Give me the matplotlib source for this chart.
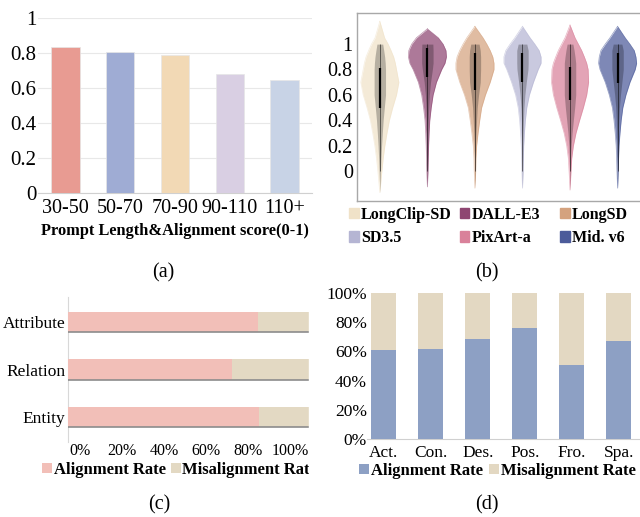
import numpy as np
import matplotlib
matplotlib.use("Agg")
import matplotlib.pyplot as plt
from matplotlib.patches import Patch, Rectangle

plt.rcParams['font.family'] = ['Liberation Serif', 'DejaVu Serif']

# (a) prompt length vs alignment score
len_bins = ['30-50', '50-70', '70-90', '90-110', '110+']
len_scores = [0.836, 0.804, 0.789, 0.680, 0.644]
len_colors = ['#E89B92', '#9FACD4', '#F2D9B5', '#D9CFE3', '#C8D3E6']

# (b) violin outlines: half widths at shared levels
models = ['LongClip-SD', 'DALL-E3', 'LongSD', 'SD3.5', 'PixArt-a', 'Mid. v6']
model_colors = ['#F0E2C8', '#8E4672', '#D4A27E', '#B5B5D3', '#D9819A', '#4C5B9A']
levels = [1.05, 1.0, 0.95, 0.9, 0.85, 0.8, 0.7, 0.6, 0.5, 0.4, 0.3, 0.2, 0.1, 0.0]
tip_top = [1.18, 1.12, 1.14, 1.14, 1.15, 1.14]
tip_bot = [-0.17, -0.125, -0.135, -0.135, -0.15, -0.135]
w_longclip = [0.10, 0.175, 0.235, 0.29, 0.325, 0.35, 0.40, 0.35, 0.27, 0.20, 0.15, 0.105, 0.07, 0.042]
w_dalle = [0.23, 0.33, 0.39, 0.40, 0.37, 0.30, 0.19, 0.12, 0.08, 0.05, 0.035, 0.025, 0.018, 0.012]
w_longsd = [0.17, 0.25, 0.32, 0.375, 0.40, 0.40, 0.32, 0.22, 0.14, 0.10, 0.065, 0.035, 0.02, 0.015]
w_sd35 = [0.16, 0.26, 0.35, 0.39, 0.39, 0.33, 0.23, 0.145, 0.09, 0.06, 0.04, 0.025, 0.018, 0.012]
w_pixart = [0.105, 0.175, 0.245, 0.30, 0.35, 0.38, 0.39, 0.35, 0.28, 0.20, 0.125, 0.07, 0.035, 0.02]
w_mid = [0.16, 0.26, 0.35, 0.385, 0.40, 0.37, 0.26, 0.175, 0.11, 0.075, 0.05, 0.03, 0.02, 0.013]
q1 = [0.50, 0.74, 0.64, 0.70, 0.56, 0.69]
q3 = [0.81, 0.97, 0.93, 0.93, 0.82, 0.93]

# (c) alignment by element type
elem_types = ['Entity', 'Relation', 'Attribute']
elem_align = [0.764, 0.656, 0.760]
c_ticks = ['0%', '20%', '40%', '60%', '80%', '100%']

# (d) alignment by prompt category
cats = ['Act.', 'Con.', 'Des.', 'Pos.', 'Fro.', 'Spa.']
cat_align = [0.61, 0.616, 0.683, 0.762, 0.509, 0.671]

W, H = 640, 517
fig = plt.figure(figsize=(6.4, 5.17), dpi=100)


def box(x0, y0, x1, y1):
    # pixel box -> figure fraction
    return [x0 / W, 1 - y1 / H, (x1 - x0) / W, (y1 - y0) / H]


# ---------- (a)
ax = fig.add_axes(box(38, 18, 312, 193))
xa = np.arange(len(len_bins))
ax.bar(xa, len_scores, width=0.52, color=len_colors, edgecolor='#E6E6E6', linewidth=0.5, zorder=3)
ax.set_ylim(0, 1)
ax.set_xlim(-0.5, 4.5)
ax.set_yticks([0, 0.2, 0.4, 0.6, 0.8, 1.0])
ax.set_yticklabels(['0', '0.2', '0.4', '0.6', '0.8', '1'])
ax.set_xticks(xa)
ax.set_xticklabels(len_bins)
ax.grid(axis='y', color='#E8E8E8', lw=0.8, zorder=0)
for s in ['top', 'right', 'left']:
    ax.spines[s].set_visible(False)
ax.spines['bottom'].set_color('#D0D0D0')
ax.tick_params(length=0, labelsize=15, pad=1)
ax.tick_params(axis='x', labelsize=14.5, pad=4)
ax.set_xlabel('Prompt Length&Alignment score(0-1)', fontsize=11.8, fontweight='bold', labelpad=4)
fig.text(163 / W, 1 - 273 / H, '(a)', ha='center', va='center', fontsize=14.5)

# ---------- (b)
ax = fig.add_axes(box(357, 13, 648, 201))
widths = [w_longclip, w_dalle, w_longsd, w_sd35, w_pixart, w_mid]
for i, w in enumerate(widths):
    ys = np.array([tip_top[i]] + levels + [tip_bot[i]])
    ws = np.array([0] + w + [0])
    ax.fill_betweenx(ys, i - ws, i + ws, color=model_colors[i], alpha=0.72, lw=0, zorder=2)
    ax.plot(np.r_[i - ws, (i + ws)[::-1]], np.r_[ys, ys[::-1]], color=model_colors[i],
            lw=0.5, alpha=0.6, zorder=2)
    # dot cloud as a dark band
    inner = ys <= 1.0
    bw = np.minimum(ws[inner] * 0.35, 0.12)
    ax.fill_betweenx(ys[inner], i - bw, i + bw, color='k', alpha=0.25, lw=0, zorder=3)
    ax.vlines(i, 0, 1.0, color='k', lw=0.6, alpha=0.6, zorder=4)
    ax.vlines(i, q1[i], q3[i], color='k', lw=1.6, zorder=5)
ax.set_xlim(-0.48, 5.64)
ax.set_ylim(-0.236, 1.245)
ax.set_yticks([0, 0.2, 0.4, 0.6, 0.8, 1.0])
ax.set_yticklabels(['0', '0.2', '0.4', '0.6', '0.8', '1'])
ax.set_xticks([])
ax.tick_params(length=0, labelsize=14.5, pad=3)
for s in ax.spines.values():
    s.set_color('#A8A8A8')
    s.set_linewidth(1.0)
handles = [Patch(color=c, label=m) for m, c in zip(models, model_colors)]
leg_kw = dict(loc='upper left', frameon=False, prop={'weight': 'bold', 'size': 11.5},
              handlelength=0.6, handleheight=0.6, handletextpad=0.15, labelspacing=0.45,
              borderpad=0, borderaxespad=0)
order = [0, 3, 1, 4]
fig.legend([handles[k] for k in order], [models[k] for k in order], ncol=2,
           bbox_to_anchor=(349 / W, 1 - 207 / H), columnspacing=0.5, **leg_kw)
fig.legend([handles[2], handles[5]], [models[2], models[5]], ncol=1,
           bbox_to_anchor=(560 / W, 1 - 207 / H), **leg_kw)
fig.text(487 / W, 1 - 273 / H, '(b)', ha='center', va='center', fontsize=14.5)

# ---------- (c)
ax = fig.add_axes(box(68, 297, 309, 442))
yc = np.arange(len(elem_types))
mis = [1 - a for a in elem_align]
ax.barh(yc, elem_align, height=0.42, color='#F2BFB8', zorder=3, label='Alignment Rate')
ax.barh(yc, mis, left=elem_align, height=0.42, color='#E3D9C3', zorder=3, label='Misalignment Rate')
ax.hlines(yc - 0.21, 0, 1, color='#8C8C8C', lw=1.2, zorder=4)
ax.set_xlim(0, 0.965)
ax.set_ylim(-0.52, 2.52)
ax.set_yticks(yc)
ax.set_yticklabels(elem_types)
ax.set_xticks(np.linspace(0.048, 0.888, 6))
ax.set_xticklabels(c_ticks)
for s in ['top', 'right', 'bottom']:
    ax.spines[s].set_visible(False)
ax.spines['left'].set_color('#D8D8D8')
ax.tick_params(length=0, labelsize=12.5, pad=2)
ax.tick_params(axis='x', labelsize=11.5, pad=1)
ax.legend(loc='upper left', bbox_to_anchor=(42 / W, 1 - 462 / H), bbox_transform=fig.transFigure,
          ncol=2, frameon=False, prop={'weight': 'bold', 'size': 12}, handlelength=0.6,
          handleheight=0.6, handletextpad=0.1, columnspacing=0.3, borderpad=0, borderaxespad=0)
fig.add_artist(Rectangle((309 / W, 1 - 490 / H), 12 / W, 200 / H, transform=fig.transFigure,
                         color='white', zorder=20))
fig.text(159 / W, 1 - 505 / H, '(c)', ha='center', va='center', fontsize=14.5)

# ---------- (d)
ax = fig.add_axes(box(367, 293, 648, 439))
xd = np.arange(len(cats))
mis_d = [1 - a for a in cat_align]
ax.bar(xd, cat_align, width=0.53, color='#8DA0C4', zorder=3, label='Alignment Rate')
ax.bar(xd, mis_d, bottom=cat_align, width=0.53, color='#E3D8C2', zorder=3, label='Misalignment Rate')
ax.set_ylim(0, 1)
ax.set_xlim(-0.36, 5.62)
ax.set_yticks([0, 0.2, 0.4, 0.6, 0.8, 1.0])
ax.set_yticklabels(['0%', '20%', '40%', '60%', '80%', '100%'])
ax.set_xticks(xd)
ax.set_xticklabels(cats)
for s in ['top', 'right', 'left']:
    ax.spines[s].set_visible(False)
ax.spines['bottom'].set_color('#D0D0D0')
ax.tick_params(length=0, labelsize=12.5, pad=0)
ax.tick_params(axis='x', pad=4)
ax.legend(loc='upper left', bbox_to_anchor=(359 / W, 1 - 463 / H), bbox_transform=fig.transFigure,
          ncol=2, frameon=False, prop={'weight': 'bold', 'size': 12}, handlelength=0.6,
          handleheight=0.6, handletextpad=0.1, columnspacing=0.4, borderpad=0, borderaxespad=0)
fig.text(487 / W, 1 - 505 / H, '(d)', ha='center', va='center', fontsize=14.5)

fig.savefig('out.png', dpi=100)
